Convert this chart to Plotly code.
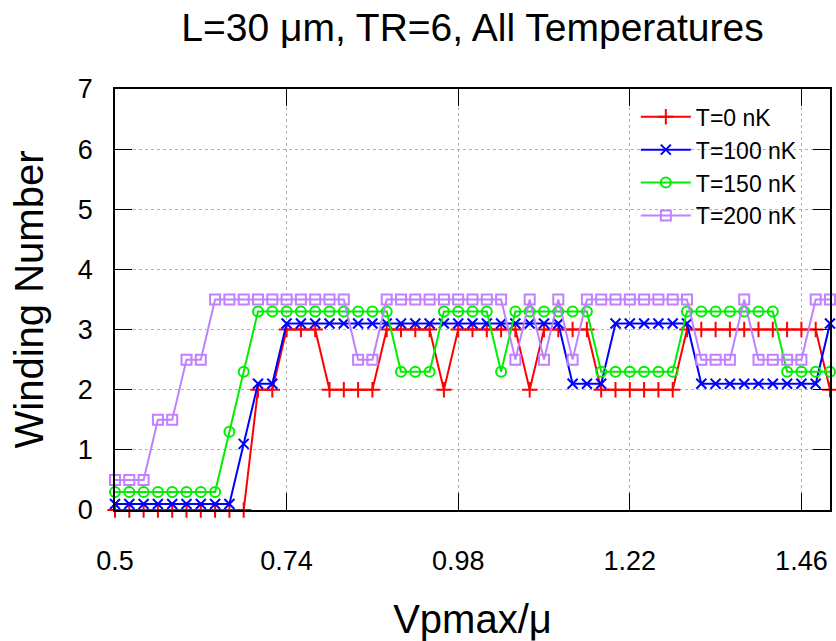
import plotly.graph_objects as go

# Data (x: Vpmax/mu, step 0.02 from 0.5 to 1.5)
x_vals = [0.50, 0.52, 0.54, 0.56, 0.58, 0.60, 0.62, 0.64, 0.66, 0.68,
          0.70, 0.72, 0.74, 0.76, 0.78, 0.80, 0.82, 0.84, 0.86, 0.88,
          0.90, 0.92, 0.94, 0.96, 0.98, 1.00, 1.02, 1.04, 1.06, 1.08,
          1.10, 1.12, 1.14, 1.16, 1.18, 1.20, 1.22, 1.24, 1.26, 1.28,
          1.30, 1.32, 1.34, 1.36, 1.38, 1.40, 1.42, 1.44, 1.46, 1.48,
          1.50]

w_T0 = [0, 0, 0, 0, 0, 0, 0, 0, 0, 0,
        2, 2, 3, 3, 3, 2, 2, 2, 2, 3,
        3, 3, 3, 2, 3, 3, 3, 3, 3, 2,
        3, 3, 3, 3, 2, 2, 2, 2, 2, 2,
        3, 3, 3, 3, 3, 3, 3, 3, 3, 3,
        2]

w_T100 = [0.1, 0.1, 0.1, 0.1, 0.1, 0.1, 0.1, 0.1, 0.1, 1.1,
          2.1, 2.1, 3.1, 3.1, 3.1, 3.1, 3.1, 3.1, 3.1, 3.1,
          3.1, 3.1, 3.1, 3.1, 3.1, 3.1, 3.1, 3.1, 3.1, 3.1,
          3.1, 3.1, 2.1, 2.1, 2.1, 3.1, 3.1, 3.1, 3.1, 3.1,
          3.1, 2.1, 2.1, 2.1, 2.1, 2.1, 2.1, 2.1, 2.1, 2.1,
          3.1]

w_T150 = [0.3, 0.3, 0.3, 0.3, 0.3, 0.3, 0.3, 0.3, 1.3, 2.3,
          3.3, 3.3, 3.3, 3.3, 3.3, 3.3, 3.3, 3.3, 3.3, 3.3,
          2.3, 2.3, 2.3, 3.3, 3.3, 3.3, 3.3, 2.3, 3.3, 3.3,
          3.3, 3.3, 3.3, 3.3, 2.3, 2.3, 2.3, 2.3, 2.3, 2.3,
          3.3, 3.3, 3.3, 3.3, 3.3, 3.3, 3.3, 2.3, 2.3, 2.3,
          2.3]

w_T200 = [0.5, 0.5, 0.5, 1.5, 1.5, 2.5, 2.5, 3.5, 3.5, 3.5,
          3.5, 3.5, 3.5, 3.5, 3.5, 3.5, 3.5, 2.5, 2.5, 3.5,
          3.5, 3.5, 3.5, 3.5, 3.5, 3.5, 3.5, 3.5, 2.5, 3.5,
          2.5, 3.5, 2.5, 3.5, 3.5, 3.5, 3.5, 3.5, 3.5, 3.5,
          3.5, 2.5, 2.5, 2.5, 3.5, 2.5, 2.5, 2.5, 2.5, 3.5,
          3.5]

x_tickvals = [0.5, 0.74, 0.98, 1.22, 1.46]
x_ticktext = ["0.5", "0.74", "0.98", "1.22", "1.46"]

series = [
    ("T=0 nK", w_T0, "#ff0000", "cross-thin-open", 11),
    ("T=100 nK", w_T100, "#0000ff", "x-thin-open", 10),
    ("T=150 nK", w_T150, "#00ee00", "circle-open", 10),
    ("T=200 nK", w_T200, "#c080ff", "square-open", 10),
]

FONT = "Liberation Sans, Arial, sans-serif"

fig = go.Figure()
for name, ys, color, sym, size in series:
    fig.add_trace(go.Scatter(
        x=x_vals, y=ys, name=name, mode="lines+markers",
        line=dict(color=color, width=2),
        marker=dict(symbol=sym, size=size, color=color,
                    line=dict(color=color, width=2)),
        cliponaxis=False,
    ))

fig.update_layout(
    width=836, height=641,
    margin=dict(l=115, r=4, t=89, b=131),
    paper_bgcolor="white", plot_bgcolor="white",
    font=dict(family=FONT, color="black", size=27),
    title=dict(text="L=30 μm, TR=6, All Temperatures",
               xref="paper", x=0.5, xanchor="center", y=0.958, yanchor="middle",
               font=dict(size=39, family=FONT, color="black")),
    showlegend=True,
    legend=dict(x=0.962, xanchor="right", y=0.985, yanchor="top",
                bgcolor="rgba(255,255,255,0)", font=dict(size=23, family=FONT),
                tracegroupgap=0, itemwidth=50),
)

fig.update_xaxes(
    range=[0.5, 1.5], tickvals=x_tickvals, ticktext=x_ticktext,
    showline=True, linecolor="black", linewidth=1.5, mirror="ticks",
    ticks="inside", ticklen=17, tickwidth=1, tickcolor="black",
    showgrid=True, gridcolor="#b0b0b0", griddash="dot", gridwidth=1,
    zeroline=False, ticklabelstandoff=26,
    tickfont=dict(size=27, family=FONT),
    title=dict(text="Vpmax/μ", font=dict(size=40, family=FONT), standoff=31),
)
fig.update_yaxes(
    range=[0, 7], dtick=1, tick0=0,
    showline=True, linecolor="black", linewidth=1.5, mirror="ticks",
    ticks="inside", ticklen=17, tickwidth=1, tickcolor="black",
    showgrid=True, gridcolor="#b0b0b0", griddash="dot", gridwidth=1,
    zeroline=False, ticklabelstandoff=15,
    tickfont=dict(size=27, family=FONT),
    title=dict(text="Winding Number", font=dict(size=40, family=FONT), standoff=22),
)

fig.write_html("out.html")
